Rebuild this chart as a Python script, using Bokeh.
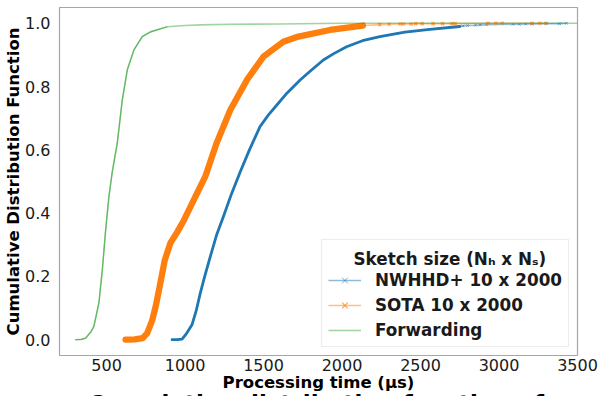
import math
from bokeh.plotting import figure
from bokeh.layouts import column
from bokeh.models import Label, Legend, LegendItem, FixedTicker, Range1d, PrintfTickFormatter, Div
from bokeh.embed import file_html
from bokeh.resources import INLINE

# ---------------- data ----------------
nwhhd_x = [917, 950, 981, 1010, 1044, 1070, 1097, 1125, 1161, 1200, 1245, 1295, 1351, 1410,
           1478, 1530, 1590, 1650, 1733, 1800, 1881, 1950, 2029, 2130, 2241, 2400, 2559, 2750]
nwhhd_y = [0.0, 0.0, 0.002, 0.02, 0.047, 0.09, 0.147, 0.2, 0.263, 0.33, 0.39, 0.46, 0.53, 0.6,
           0.674, 0.71, 0.745, 0.78, 0.821, 0.85, 0.884, 0.905, 0.926, 0.945, 0.958, 0.972, 0.981, 0.99]
nwhhd_tail_x = [2770, 2800, 2850, 2880, 2920, 3090, 3130, 3170, 3210, 3300, 3385, 3430]
nwhhd_tail_y = [0.992, 0.993, 0.994, 0.995, 0.996, 0.997, 0.997, 0.998, 0.998, 0.999, 0.999, 1.0]

sota_x = [621, 680, 730, 758, 790, 815, 843, 870, 906, 950, 995, 1044, 1097, 1129, 1200, 1288,
          1394, 1500, 1626, 1722, 1923, 2133]
sota_y = [0.0, 0.001, 0.005, 0.02, 0.06, 0.11, 0.18, 0.25, 0.305, 0.34, 0.38, 0.43, 0.484, 0.516,
          0.62, 0.726, 0.821, 0.895, 0.942, 0.958, 0.979, 0.993]
sota_tail_x = [2240, 2300, 2370, 2390, 2440, 2470, 2510, 2580, 2640, 2700, 2720, 2930, 2980, 3020,
               3210, 3260, 3300]
sota_tail_y = [0.996, 0.997, 0.998, 0.998, 0.998, 0.999, 0.999, 0.999, 0.999, 0.999, 0.999, 1.0,
               1.0, 1.0, 1.0, 1.0, 1.0]

fwd_x = [300, 340, 367, 400, 419, 451, 473, 494, 515, 536, 568, 600, 632, 674, 727, 780, 886,
         1000, 1097, 1300, 1600, 2000, 3500]
fwd_y = [0.0, 0.001, 0.005, 0.025, 0.042, 0.116, 0.221, 0.347, 0.453, 0.53, 0.621, 0.758, 0.853,
         0.916, 0.958, 0.973, 0.989, 0.993, 0.995, 0.997, 0.998, 1.0, 1.0]

series_labels = ["NWHHD+ 10 x 2000", "SOTA 10 x 2000", "Forwarding"]
legend_title = "Sketch size (N\u2095 x N\u209b)"
x_label = "Processing time (\u03bcs)"
y_label = "Cumulative Distribution Function"
caption = "Cumulative distribution function of"

x_ticks = [500, 1000, 1500, 2000, 2500, 3000, 3500]
y_ticks = [0.0, 0.2, 0.4, 0.6, 0.8, 1.0]

BLUE = "#1f77b4"
ORANGE = "#ff7f0e"
GREEN = "#2ca02c"
FONT = "DejaVu Sans"

# ---------------- figure ----------------
p = figure(width=602, height=396, output_backend="svg", toolbar_location=None,
           x_range=Range1d(200, 3500), y_range=Range1d(-0.05, 1.05),
           min_border_left=59, min_border_right=25, min_border_top=7, min_border_bottom=41)
p.grid.visible = False
p.outline_line_color = "#a6a6a6"
p.outline_line_width = 1.2
p.background_fill_color = "white"
p.border_fill_color = "white"

for ax in (p.xaxis[0], p.yaxis[0]):
    ax.axis_line_color = None
    ax.major_tick_line_color = None
    ax.minor_tick_line_color = None
    ax.major_tick_out = 0
    ax.major_tick_in = 0
    ax.major_label_text_font = FONT
    ax.major_label_text_font_size = "16px"
    ax.major_label_text_color = "#1a1a1a"
    ax.axis_label_text_font = FONT
    ax.axis_label_text_font_size = "16.5px"
    ax.axis_label_text_font_style = "bold"
    ax.axis_label_text_color = "black"

p.xaxis.ticker = FixedTicker(ticks=x_ticks)
p.xaxis.formatter = PrintfTickFormatter(format="%d")
p.xaxis.major_label_standoff = 3
p.xaxis.axis_label = x_label
p.xaxis.axis_label_standoff = -1
p.yaxis.ticker = FixedTicker(ticks=y_ticks)
p.yaxis.formatter = PrintfTickFormatter(format="%.1f")
p.yaxis.major_label_standoff = 9
p.yaxis.axis_label = y_label
p.yaxis.axis_label_standoff = -1

# ---------------- NWHHD+ (blue) ----------------
bx_all = nwhhd_x + nwhhd_tail_x
by_all = nwhhd_y + nwhhd_tail_y
r_b_line = p.line(bx_all, by_all, line_color=BLUE, line_alpha=0.5, line_width=1.6)
r_b_mark = p.scatter(nwhhd_tail_x, nwhhd_tail_y, marker="x", size=4, line_color=BLUE,
                     line_alpha=0.6, line_width=1)
p.line(nwhhd_x, nwhhd_y, line_color=BLUE, line_width=2.8, line_join="round", line_cap="round")

# ---------------- SOTA (orange) ----------------
sx_all = sota_x + sota_tail_x
sy_all = sota_y + sota_tail_y
r_s_line = p.line(sx_all, sy_all, line_color=ORANGE, line_alpha=0.5, line_width=1.6)
r_s_mark = p.scatter(sota_tail_x, sota_tail_y, marker="x", size=4.5, line_color=ORANGE,
                     line_alpha=0.7, line_width=1.2)
p.line(sota_x, sota_y, line_color=ORANGE, line_width=6.3, line_join="round", line_cap="round")

# ---------------- Forwarding (green) ----------------
r_f_line = p.line(fwd_x, fwd_y, line_color=GREEN, line_alpha=0.45, line_width=1.6)
rise = [i for i, v in enumerate(fwd_y) if v <= 0.99]
p.line([fwd_x[i] for i in rise], [fwd_y[i] for i in rise], line_color=GREEN,
       line_alpha=0.55, line_width=1.2)

# ---------------- legend ----------------
legend = Legend(items=[
    LegendItem(label=series_labels[0], renderers=[r_b_line, r_b_mark]),
    LegendItem(label=series_labels[1], renderers=[r_s_line, r_s_mark]),
    LegendItem(label=series_labels[2], renderers=[r_f_line]),
], location="bottom_right", margin=8, padding=6, spacing=5,
    glyph_width=33, glyph_height=20, label_standoff=14, label_width=187,
    label_text_font=FONT, label_text_font_size="16.8px", label_text_font_style="bold",
    label_text_color="#1a1a1a",
    title=" ", title_text_font_size="16.5px", title_standoff=5,
    border_line_color="#d9d9d9", border_line_width=1,
    background_fill_color="white", background_fill_alpha=0.0)
p.add_layout(legend, "center")

p.add_layout(Label(x=294, y=97, x_units="screen", y_units="screen", text=legend_title,
                   text_font=FONT, text_font_size="16.8px", text_font_style="bold",
                   text_align="left", text_baseline="middle", text_color="#1a1a1a",
                   level="overlay"))

# ---------------- caption (cut off at the bottom edge, as in the reference) ----------------
cap = Div(text=caption, width=602, height=6, margin=(-6, 0, 0, 0),
          styles={"font-family": "DejaVu Sans", "font-size": "23px", "font-weight": "bold",
                  "line-height": "24px", "overflow": "hidden", "white-space": "nowrap",
                  "padding-left": "88px", "padding-top": "2px", "color": "black",
                  "box-sizing": "border-box"})

root = column(p, cap, spacing=0)
open("out.html", "w").write(file_html(root, INLINE))
